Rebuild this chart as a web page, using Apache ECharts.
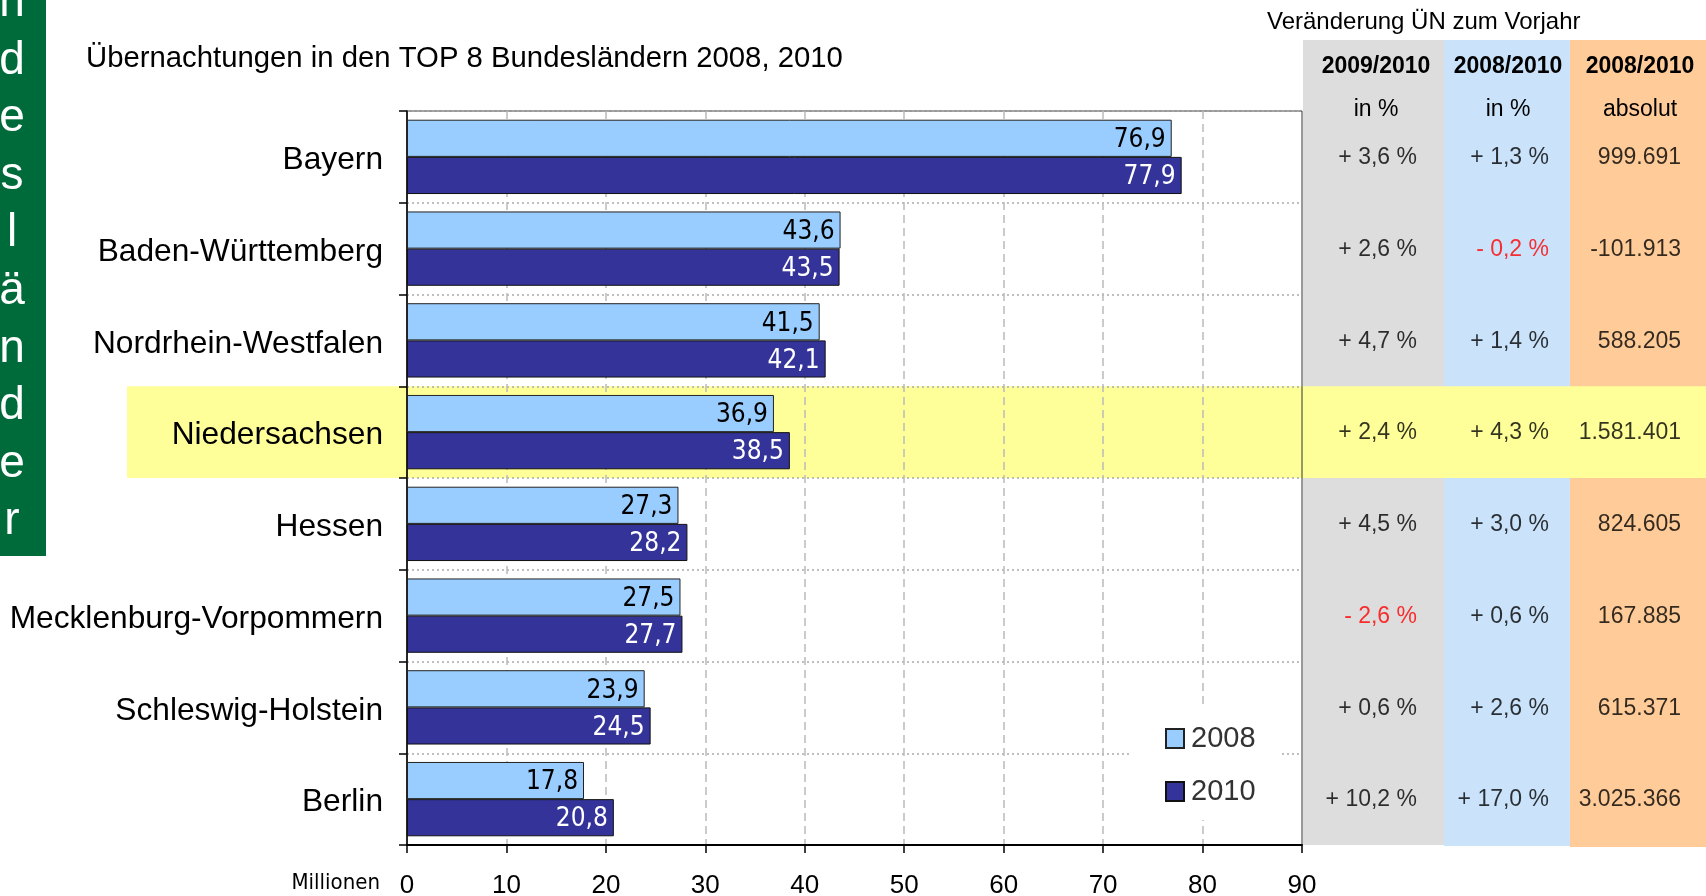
<!DOCTYPE html>
<html>
<head>
<meta charset="utf-8">
<script src="https://cdn.jsdelivr.net/npm/echarts@6/dist/echarts.min.js"></script>
<style>
  html, body { margin: 0; padding: 0; background: #fff; }
  #chart { width: 1706px; height: 896px; }
</style>
</head>
<body>
<div id="chart"></div>
<script>
// Daten
var laender = ['Bayern', 'Baden-Württemberg', 'Nordrhein-Westfalen', 'Niedersachsen', 'Hessen', 'Mecklenburg-Vorpommern', 'Schleswig-Holstein', 'Berlin'];
var werte2008 = [76.9, 43.6, 41.5, 36.9, 27.3, 27.5, 23.9, 17.8];
var werte2010 = [77.9, 43.5, 42.1, 38.5, 28.2, 27.7, 24.5, 20.8];
var proz0910 = [3.6, 2.6, 4.7, 2.4, 4.5, -2.6, 0.6, 10.2];
var proz0810 = [1.3, -0.2, 1.4, 4.3, 3.0, 0.6, 2.6, 17.0];
var absolut0810 = [999691, -101913, 588205, 1581401, 824605, 167885, 615371, 3025366];
var spalten = ['2009/2010', '2008/2010', '2008/2010'];
var spaltenEinheit = ['in %', 'in %', 'absolut'];
var seitenText = 'Bundesländer';

var schrift = '"Liberation Sans", Arial, sans-serif';
var schmal = '"Liberation Sans Narrow", "DejaVu Sans Condensed", sans-serif';

var gTop = 111, gBottom = 51, gLeft = 407, gRight = 404;
var band = (896 - gTop - gBottom) / laender.length;
var markiert = laender.indexOf('Niedersachsen');

function fmtProz(v) {
  return (v < 0 ? '- ' : '+ ') + Math.abs(v).toFixed(1).replace('.', ',') + ' %';
}
function fmtAbs(v) {
  return (v < 0 ? '-' : '') + String(Math.abs(v)).replace(/\B(?=(\d{3})+(?!\d))/g, '.');
}

var tabelle = [];
laender.forEach(function (l, i) {
  [proz0910[i], proz0810[i]].forEach(function (v, j) {
    tabelle.push({ name: fmtProz(v), value: [j, i], label: { color: v < 0 ? '#ff0000' : '#000' } });
  });
  tabelle.push({ name: fmtAbs(absolut0810[i]), value: [2, i] });
});

// Seitenleiste und Hintergruende
var grafik = [
  { type: 'rect', z: -5, shape: { x: 0, y: 0, width: 46, height: 556 }, style: { fill: '#006b3a' } },
  { type: 'rect', z: -5, shape: { x: 1303, y: 40, width: 141, height: 805 }, style: { fill: '#dddddd' } },
  { type: 'rect', z: -5, shape: { x: 1444, y: 40, width: 126, height: 806 }, style: { fill: '#cae3fa' } },
  { type: 'rect', z: -5, shape: { x: 1570, y: 40, width: 136, height: 807 }, style: { fill: '#ffcc99' } },
  { type: 'rect', z: -4, shape: { x: 127, y: gTop + markiert * band, width: 1706 - 127, height: band }, style: { fill: '#ffff99' } }
];
seitenText.split('').forEach(function (ch, i) {
  grafik.push({
    type: 'text', z: 1,
    style: { text: ch, x: 12, y: 61 + (i - 3) * 57.6, fill: '#fff', font: '46px ' + schrift, textAlign: 'center', textVerticalAlign: 'middle' }
  });
});

var chart = echarts.init(document.getElementById('chart'));

var option = {
  animation: false,
  graphic: grafik,
  title: [
    {
      text: 'Übernachtungen in den TOP 8 Bundesländern 2008, 2010',
      left: 86, top: 44, padding: 0,
      textStyle: { fontFamily: schrift, fontSize: 29.3, fontWeight: 'normal', color: '#000' }
    },
    {
      text: 'Veränderung ÜN zum Vorjahr',
      left: 1267, top: 10, padding: 0,
      textStyle: { fontFamily: schrift, fontSize: 24, fontWeight: 'normal', color: '#000' }
    }
  ],
  legend: {
    data: ['2008', '2010'],
    orient: 'vertical',
    left: 1131, top: 708,
    padding: [16, 24, 14, 34],
    itemGap: 24,
    itemWidth: 18, itemHeight: 19,
    icon: 'rect',
    backgroundColor: '#fff',
    selectedMode: false,
    textStyle: { fontFamily: schrift, fontSize: 29, color: '#333', padding: [0, 0, 0, 2] }
  },
  grid: [
    { left: gLeft, right: gRight, top: gTop, bottom: gBottom, show: true, borderColor: '#333', borderWidth: 1, outerBoundsMode: 'none' },
    { left: 1310, right: 0, top: gTop, bottom: gBottom, outerBoundsMode: 'none' }
  ],
  xAxis: [
    {
      type: 'value', gridIndex: 0, min: 0, max: 90, interval: 10,
      name: 'Millionen', nameLocation: 'start', nameGap: 27,
      nameTextStyle: { fontFamily: schmal, fontSize: 22, color: '#000', verticalAlign: 'top', padding: [27, 0, 0, 0] },
      axisLine: { show: true, lineStyle: { color: '#000', width: 2 } },
      axisTick: { show: true, length: 8, lineStyle: { color: '#000', width: 1.5 } },
      axisLabel: { fontFamily: schrift, fontSize: 26, color: '#000', margin: 28 },
      splitLine: { show: true, showMinLine: false, showMaxLine: false, lineStyle: { color: '#bbbbbb', width: 1.5, type: [8, 5] } }
    },
    {
      type: 'category', gridIndex: 1, position: 'top', data: spalten,
      axisLine: { show: false }, axisTick: { show: false }, splitLine: { show: false },
      axisLabel: {
        margin: -12, interval: 0,
        formatter: function (v, i) { return '{a|' + v + '}\n{b|' + spaltenEinheit[i] + '}'; },
        rich: {
          a: { fontFamily: schrift, fontSize: 23, fontWeight: 'bold', color: '#000', lineHeight: 60 },
          b: { fontFamily: schrift, fontSize: 23, color: '#000', lineHeight: 26 }
        }
      }
    }
  ],
  yAxis: [
    {
      type: 'category', gridIndex: 0, data: laender, inverse: true,
      axisLine: { show: true, lineStyle: { color: '#000', width: 1.5 } },
      axisTick: { show: true, length: 8, lineStyle: { color: '#000', width: 1.5 } },
      axisLabel: {
        margin: 24,
        formatter: function (v) { return '{n|' + v + '}'; },
        rich: { n: { fontFamily: schrift, fontSize: 31.7, color: '#000', padding: [7, 0, 0, 0] } }
      },
      splitLine: { show: true, lineStyle: { color: '#aaaaaa', width: 1.5, type: [2, 3] } }
    },
    { type: 'category', gridIndex: 1, data: laender, inverse: true, show: false }
  ],
  series: [
    {
      name: '2008', type: 'bar', data: werte2008,
      barGap: '0%', barCategoryGap: '19%',
      itemStyle: { color: '#99ccff', borderColor: '#222', borderWidth: 1 },
      label: {
        show: true, position: 'insideRight', distance: 6, offset: [0, 2],
        formatter: function (p) { return p.value.toFixed(1).replace('.', ','); },
        fontFamily: schmal, fontSize: 26, color: '#000'
      }
    },
    {
      name: '2010', type: 'bar', data: werte2010,
      barGap: '0%', barCategoryGap: '19%',
      itemStyle: { color: '#333399', borderColor: '#111', borderWidth: 1 },
      label: {
        show: true, position: 'insideRight', distance: 6, offset: [0, 2],
        formatter: function (p) { return p.value.toFixed(1).replace('.', ','); },
        fontFamily: schmal, fontSize: 26, color: '#fff'
      }
    },
    {
      type: 'scatter', xAxisIndex: 1, yAxisIndex: 1, data: tabelle,
      symbolSize: 1, itemStyle: { color: 'rgba(0,0,0,0)' }, silent: true,
      label: {
        show: true, position: 'inside', align: 'right', verticalAlign: 'middle', offset: [41, 1],
        formatter: function (p) { return p.name; },
        fontFamily: schrift, fontSize: 23, color: '#000'
      }
    }
  ]
};

chart.setOption(option);
</script>
</body>
</html>
